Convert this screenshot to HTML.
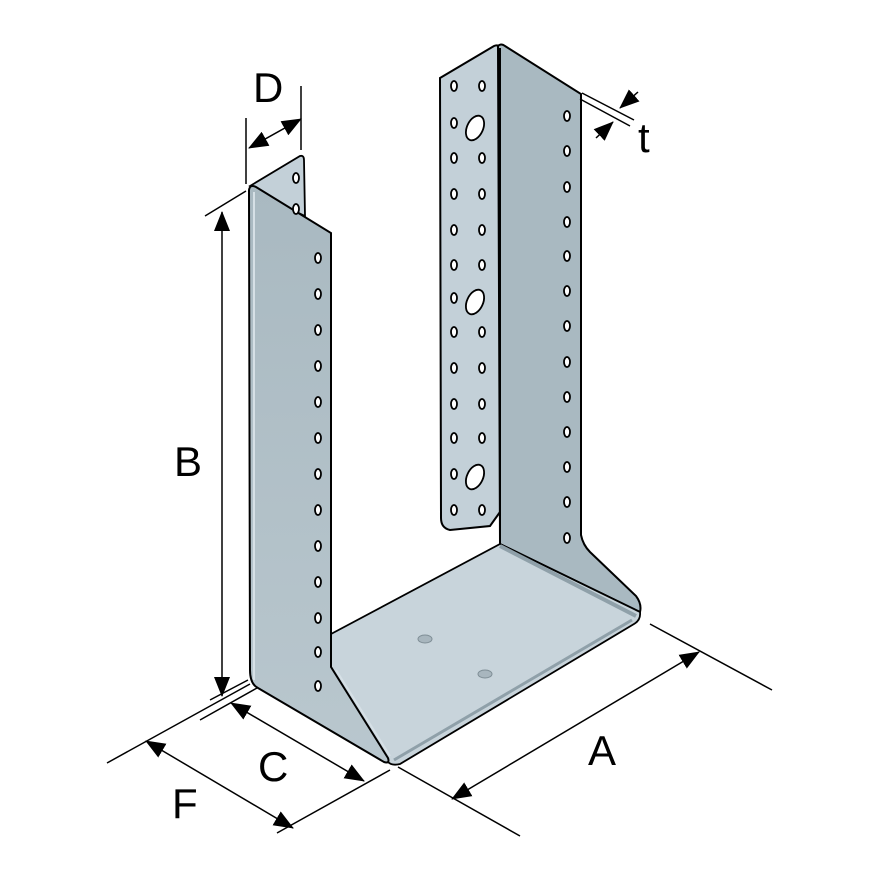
<!DOCTYPE html>
<html><head><meta charset="utf-8"><style>html,body{margin:0;padding:0;background:#fff}svg{display:block}</style></head>
<body>
<svg width="880" height="880" viewBox="0 0 880 880" xmlns="http://www.w3.org/2000/svg" font-family="Liberation Sans, sans-serif">
<defs>
<marker id="ar" markerWidth="20" markerHeight="16" refX="19" refY="8" orient="auto-start-reverse" markerUnits="userSpaceOnUse" viewBox="0 0 20 16"><path d="M0,0 L20,8 L0,16 z" fill="#000"/></marker>
<linearGradient id="lg" x1="0" y1="0" x2="0" y2="1"><stop offset="0" stop-color="#a9b9c1"/><stop offset="1" stop-color="#b9c7ce"/></linearGradient>
</defs>
<g stroke="#000" stroke-width="1.6" fill="none">
<path d="M440,78 L494,46 Q498,44 500,48 L500,512 L490,526 L450,530 Q441,528 441,518 Z" fill="#c3d0d8" stroke-width="2"/>
<path d="M498,46 Q501,43 505,46 L581,94 L581,535 Q583,545 590,552 L636,596 Q642,604 640,612 L500,544 Z" fill="#a9b9c1" stroke-width="2"/>
<line x1="500" y1="48" x2="500" y2="544" stroke-width="2"/>
<path d="M331,634 L500,544 L640,612 Q641,620 634,624 L400,764 Q392,766 388,762 L331,667 Z" fill="#c8d4db" stroke-width="1.8"/>
<path d="M500,546 L636,616" stroke="#8fa0a9" stroke-width="4"/>
<path d="M394,760 L632,620" stroke="#8fa0a9" stroke-width="3"/>
<ellipse cx="425" cy="639" rx="7" ry="4" fill="#a8b6be" stroke="#7f8e96" stroke-width="1"/>
<ellipse cx="485" cy="674" rx="7" ry="4" fill="#a8b6be" stroke="#7f8e96" stroke-width="1"/>
<path d="M250,186 L300,156 Q304,155 304,160 L305,216 L280,204 Z" fill="#c3d0d8" stroke-width="1.8"/>
<path d="M249,190 Q250,184 256,187 L331,233 L331,667 L388,758 Q390,764 384,762 L258,688 Q250,684 250,670 Z" fill="url(#lg)" stroke-width="2"/>
<path d="M254,192 L254,680" stroke="#d6e0e6" stroke-width="2"/>
<path d="M336,670 L390,756" stroke="#d6e0e6" stroke-width="2"/>
</g>
<g fill="#fff" stroke="#000" stroke-width="1.8">
<ellipse cx="296" cy="178" rx="3" ry="5"/>
<ellipse cx="296" cy="209" rx="3" ry="5"/>
<ellipse cx="318" cy="258" rx="3" ry="5"/><ellipse cx="318" cy="294" rx="3" ry="5"/><ellipse cx="318" cy="330" rx="3" ry="5"/><ellipse cx="318" cy="366" rx="3" ry="5"/><ellipse cx="318" cy="402" rx="3" ry="5"/><ellipse cx="318" cy="438" rx="3" ry="5"/><ellipse cx="318" cy="474" rx="3" ry="5"/><ellipse cx="318" cy="510" rx="3" ry="5"/><ellipse cx="318" cy="546" rx="3" ry="5"/><ellipse cx="318" cy="582" rx="3" ry="5"/><ellipse cx="318" cy="618" rx="3" ry="5"/><ellipse cx="318" cy="652" rx="3" ry="5"/><ellipse cx="318" cy="686" rx="3" ry="5"/>
<ellipse cx="567" cy="116" rx="3" ry="5"/><ellipse cx="567" cy="151" rx="3" ry="5"/><ellipse cx="567" cy="187" rx="3" ry="5"/><ellipse cx="567" cy="222" rx="3" ry="5"/><ellipse cx="567" cy="256" rx="3" ry="5"/><ellipse cx="567" cy="291" rx="3" ry="5"/><ellipse cx="567" cy="326" rx="3" ry="5"/><ellipse cx="567" cy="362" rx="3" ry="5"/><ellipse cx="567" cy="397" rx="3" ry="5"/><ellipse cx="567" cy="432" rx="3" ry="5"/><ellipse cx="567" cy="467" rx="3" ry="5"/><ellipse cx="567" cy="502" rx="3" ry="5"/><ellipse cx="567" cy="538" rx="3" ry="5"/>
<ellipse cx="454" cy="86" rx="3" ry="5"/><ellipse cx="482" cy="86" rx="3" ry="5"/>
<ellipse cx="454" cy="123" rx="3" ry="5"/>
<ellipse cx="454" cy="158" rx="3" ry="5"/><ellipse cx="482" cy="158" rx="3" ry="5"/>
<ellipse cx="454" cy="194" rx="3" ry="5"/><ellipse cx="482" cy="194" rx="3" ry="5"/>
<ellipse cx="454" cy="230" rx="3" ry="5"/><ellipse cx="482" cy="230" rx="3" ry="5"/>
<ellipse cx="454" cy="265" rx="3" ry="5"/><ellipse cx="482" cy="265" rx="3" ry="5"/>
<ellipse cx="454" cy="298" rx="3" ry="5"/>
<ellipse cx="454" cy="332" rx="3" ry="5"/><ellipse cx="482" cy="332" rx="3" ry="5"/>
<ellipse cx="454" cy="368" rx="3" ry="5"/><ellipse cx="482" cy="368" rx="3" ry="5"/>
<ellipse cx="454" cy="404" rx="3" ry="5"/><ellipse cx="482" cy="404" rx="3" ry="5"/>
<ellipse cx="454" cy="438" rx="3" ry="5"/><ellipse cx="482" cy="438" rx="3" ry="5"/>
<ellipse cx="454" cy="474" rx="3" ry="5"/>
<ellipse cx="454" cy="510" rx="3" ry="5"/><ellipse cx="482" cy="510" rx="3" ry="5"/>
<ellipse cx="475" cy="128" rx="8" ry="13" transform="rotate(25 475 128)"/>
<ellipse cx="475" cy="302" rx="8" ry="13" transform="rotate(25 475 302)"/>
<ellipse cx="475" cy="477" rx="8" ry="13" transform="rotate(25 475 477)"/>
</g>
<g stroke="#000" stroke-width="1.5" fill="none">
<line x1="205" y1="216" x2="246" y2="191"/>
<line x1="210" y1="700" x2="248" y2="680"/>
<line x1="222" y1="212" x2="222" y2="696" marker-start="url(#ar)" marker-end="url(#ar)"/>
<line x1="246" y1="118" x2="246" y2="184"/>
<line x1="301" y1="86" x2="301" y2="150"/>
<line x1="249" y1="148" x2="301" y2="119" marker-start="url(#ar)" marker-end="url(#ar)"/>
<line x1="582" y1="93" x2="634" y2="120"/>
<line x1="580" y1="99" x2="630" y2="126"/>
<line x1="638" y1="92" x2="620" y2="108" marker-end="url(#ar)"/>
<line x1="596" y1="138" x2="613" y2="122" marker-end="url(#ar)"/>
<line x1="107" y1="763" x2="250" y2="684"/>
<line x1="200" y1="720" x2="257" y2="688"/>
<line x1="231" y1="703" x2="364" y2="781" marker-start="url(#ar)" marker-end="url(#ar)"/>
<line x1="146" y1="741" x2="293" y2="828" marker-start="url(#ar)" marker-end="url(#ar)"/>
<line x1="277" y1="833" x2="390" y2="770"/>
<line x1="398" y1="767" x2="520" y2="836"/>
<line x1="650" y1="624" x2="772" y2="690"/>
<line x1="452" y1="799" x2="699" y2="652" marker-start="url(#ar)" marker-end="url(#ar)"/>
</g>
<g font-size="42" fill="#000">
<text x="253" y="102">D</text>
<text x="174" y="476">B</text>
<text x="638" y="152">t</text>
<text x="258" y="781">C</text>
<text x="172" y="818">F</text>
<text x="588" y="765">A</text>
</g>
</svg>
</body></html>
